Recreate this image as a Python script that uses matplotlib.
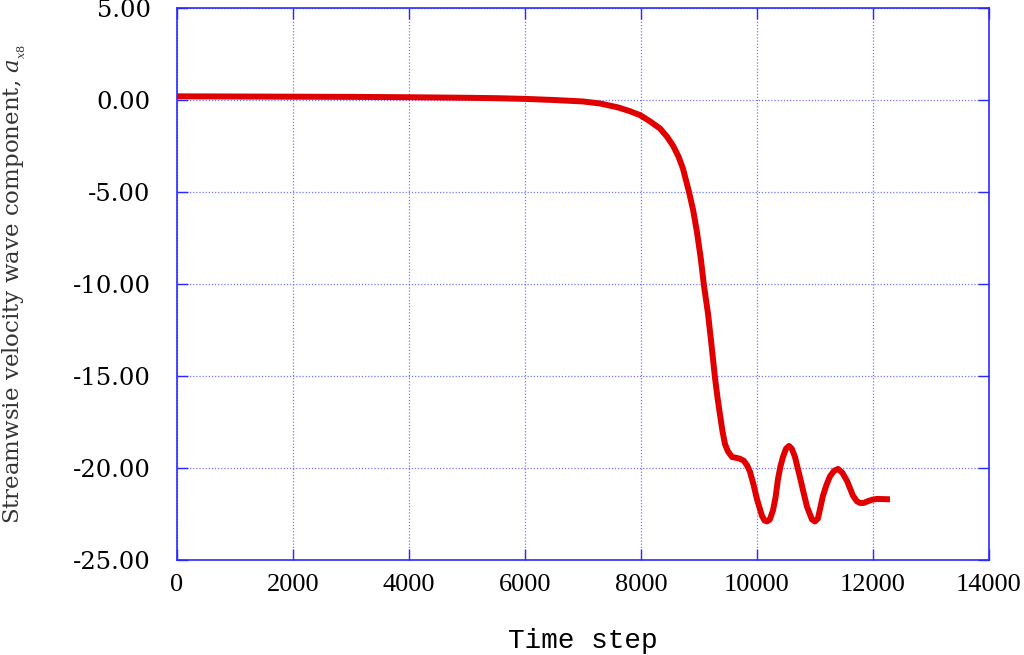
import matplotlib
matplotlib.use("Agg")
import matplotlib.pyplot as plt

plt.rcParams["mathtext.fontset"] = "dejavuserif"

steps = [0, 1000, 2000, 3000, 4000, 5000, 5500, 6000, 6500, 7000, 7293, 7600, 7800,
         7983, 8150, 8328, 8450, 8552, 8650, 8724, 8828, 8900, 8966, 9030, 9086,
         9155, 9215, 9276, 9320, 9362, 9405, 9448, 9500, 9569, 9650, 9707, 9770,
         9828, 9879, 9940, 10000, 10086, 10130, 10172, 10220, 10276, 10320, 10362,
         10405, 10448, 10500, 10552, 10600, 10655, 10741, 10800, 10862, 10948,
         11000, 11050, 11138, 11200, 11259, 11330, 11397, 11470, 11552, 11655,
         11720, 11776, 11840, 11914, 11990, 12069, 12293]
values = [0.2, 0.19, 0.18, 0.17, 0.15, 0.12, 0.1, 0.06, 0.0, -0.08, -0.19, -0.4, -0.6,
          -0.82, -1.15, -1.55, -2.0, -2.48, -3.1, -3.73, -5.0, -6.0, -7.2, -8.6, -10.1,
          -11.6, -13.3, -15.1, -16.2, -17.1, -18.0, -18.7, -19.1, -19.4, -19.45, -19.5, -19.6,
          -19.85, -20.2, -20.9, -21.7, -22.6, -22.85, -22.9, -22.8, -22.3, -21.6, -20.6,
          -19.9, -19.4, -18.95, -18.8, -18.95, -19.4, -20.5, -21.3, -22.1, -22.8,
          -22.9, -22.75, -21.5, -20.9, -20.45, -20.15, -20.05, -20.25, -20.7, -21.5,
          -21.8, -21.9, -21.9, -21.8, -21.72, -21.68, -21.7]

xticks = [0, 2000, 4000, 6000, 8000, 10000, 12000, 14000]
yticks = [5, 0, -5, -10, -15, -20, -25]
ytick_labels = ["5.00", "0.00", "-5.00", "-10.00", "-15.00", "-20.00", "-25.00"]

blue = "#2a2aff"
fig = plt.figure(figsize=(10.24, 6.55), dpi=100)
ax = fig.add_axes([0.1729, 0.145, 0.7929, 0.8428])
ax.plot(steps, values, color="#e00000", lw=4.3, solid_capstyle="butt",
        solid_joinstyle="round", zorder=3)
ax.set_xlim(0, 14000)
ax.set_ylim(-25, 5)
ax.set_xticks(xticks)
ax.set_xticklabels([str(t) for t in xticks], family="Liberation Serif", fontsize=19)
ax.set_yticks(yticks)
ax.set_yticklabels(ytick_labels, family="DejaVu Serif", fontsize=17.5)
ax.grid(True, color="#5555ff", linestyle=(0, (1, 1.5)), lw=0.9, alpha=0.8)
for s in ax.spines.values():
    s.set_color(blue)
    s.set_linewidth(1.2)
ax.tick_params(direction="in", length=8, width=1.0, color=blue,
               top=True, right=True)
ax.tick_params(axis="x", pad=10)
ax.tick_params(axis="y", pad=19)
ax.set_xlabel("Time step", family="Liberation Mono", fontsize=20, va="center")
ax.xaxis.set_label_coords(0.5, -0.146)
ax.set_ylabel("Streamwsie velocity wave component, $a_{_{x8}}$",
              family="DejaVu Serif", fontsize=16.5, color="#333333", va="center")
ax.yaxis.set_label_coords(-0.2, 0.5)
fig.savefig("out.png", dpi=100)
